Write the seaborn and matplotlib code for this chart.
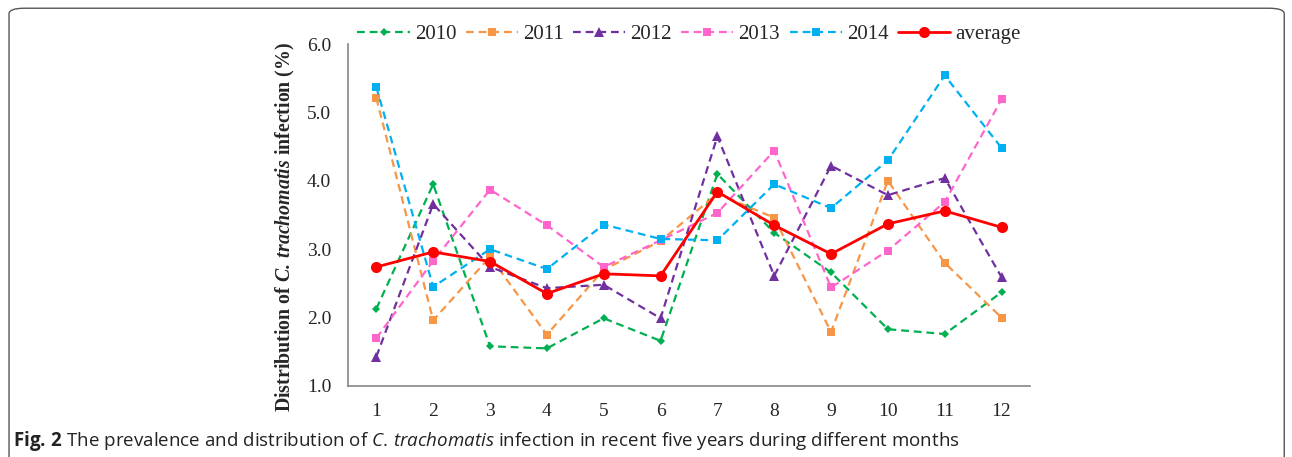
import numpy as np
import pandas as pd
import matplotlib
matplotlib.use("Agg")
import matplotlib.pyplot as plt
from matplotlib.patches import FancyBboxPatch
import seaborn as sns

months = list(range(1, 13))
y2010 = [2.13, 3.95, 1.58, 1.55, 1.99, 1.66, 4.10, 3.24, 2.66, 1.83, 1.76, 2.37]
y2011 = [5.21, 1.96, 2.89, 1.75, 2.70, 3.12, 3.81, 3.46, 1.79, 4.00, 2.80, 2.00]
y2012 = [1.43, 3.66, 2.74, 2.43, 2.48, 1.99, 4.65, 2.61, 4.22, 3.79, 4.04, 2.59]
y2013 = [1.70, 2.83, 3.87, 3.35, 2.74, 3.13, 3.53, 4.44, 2.44, 2.98, 3.69, 5.19]
y2014 = [5.37, 2.45, 3.00, 2.71, 3.36, 3.15, 3.13, 3.95, 3.60, 4.30, 5.54, 4.48]
y_avg = [2.74, 2.96, 2.82, 2.35, 2.64, 2.61, 3.84, 3.35, 2.93, 3.37, 3.56, 3.32]

series = [
    ("2010", y2010, "#00B050", "D", "--", 4.5),
    ("2011", y2011, "#F79646", "s", "--", 5.8),
    ("2012", y2012, "#7030A0", "^", "--", 6.5),
    ("2013", y2013, "#FF66CC", "s", "--", 5.8),
    ("2014", y2014, "#00B0F0", "s", "--", 5.8),
    ("average", y_avg, "#FF0000", "o", "-", 8.0),
]

sns.set_theme(style="white")
plt.rcParams["font.family"] = ["Liberation Serif", "DejaVu Serif"]
plt.rcParams["mathtext.fontset"] = "custom"
plt.rcParams["mathtext.rm"] = "Open Sans"
plt.rcParams["mathtext.it"] = "Open Sans:italic"
plt.rcParams["mathtext.bf"] = "Open Sans:bold"
plt.rcParams["mathtext.bfit"] = "Liberation Serif:italic:bold"

fig = plt.figure(figsize=(12.92, 4.57), dpi=100)
ax = fig.add_axes([0.2693, 0.1554, 0.5279, 0.7483])

for name, vals, col, mk, ls, ms in series:
    df = pd.DataFrame({"month": months, "val": vals})
    lw = 2.0 if ls == "-" else 1.6
    sns.lineplot(data=df, x="month", y="val", ax=ax, color=col, marker=mk,
                 markersize=ms, markeredgewidth=0, linewidth=lw, label=name,
                 dashes=False, linestyle=ls)
    if ls == "--":
        ax.lines[-1].set_dashes((3.5, 2.2))

ax.set_xlim(0.5, 12.5)
ax.set_ylim(1.0, 6.0)
ax.set_yticks(np.arange(1, 6.01, 1))
ax.set_yticklabels([f"{v:.1f}" for v in np.arange(1, 6.01, 1)], fontsize=14)
ax.set_xticks(np.arange(0.5, 12.6, 1), minor=False)
ax.set_xticklabels([])
ax.set_xticks(months, minor=True)
ax.set_xticklabels([str(m) for m in months], minor=True, fontsize=14)
ax.tick_params(axis="x", which="major", direction="out", length=5, width=1, color="#868686")
ax.tick_params(axis="x", which="minor", length=0, pad=12)
ax.tick_params(axis="y", direction="out", length=6, width=1, color="#868686", pad=6)
for s in ["top", "right"]:
    ax.spines[s].set_visible(False)
for s in ["left", "bottom"]:
    ax.spines[s].set_color("#868686")
    ax.spines[s].set_linewidth(1.2)

ax.set_xlabel("")
ax.set_ylabel(r"Distribution of $\mathbfit{C.\,trachomatis}$ infection (%)",
              fontsize=14.3, fontweight="bold")
ax.yaxis.set_label_coords(-0.074, 0.465)

leg = ax.legend(loc="lower center", bbox_to_anchor=(0.5, 0.975), ncol=6, frameon=False,
                fontsize=15, handlelength=2.5, columnspacing=0.45, handletextpad=0.25,
                borderaxespad=0)

fig.text(0.0101, 0.0235,
         r"$\mathbf{Fig.\,2}$ The prevalence and distribution of $\mathit{C.\,trachomatis}$ infection in recent five years during different months",
         fontsize=13.5, family="Open Sans", color="#222222", ha="left", va="baseline")

box = FancyBboxPatch((0.007, -0.1), 0.987, 1.082, boxstyle="round,pad=0,rounding_size=0.012",
                     transform=fig.transFigure, fill=False, edgecolor="#555555", linewidth=1.0)
fig.patches.append(box)

fig.savefig("out.png", dpi=100)
